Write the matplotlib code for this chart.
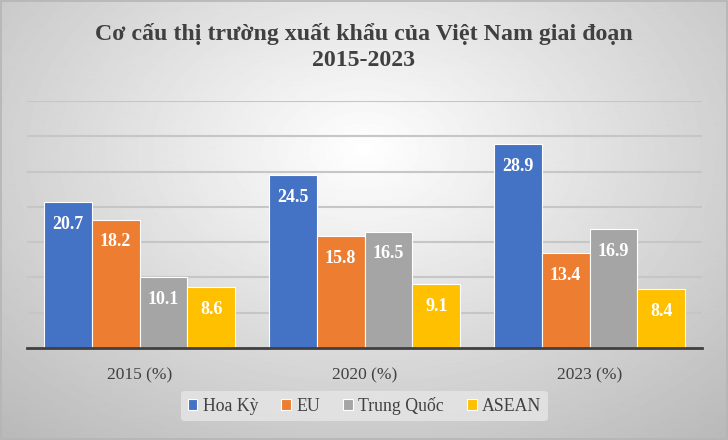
import numpy as np
import matplotlib
matplotlib.use("Agg")
import matplotlib.pyplot as plt

years = ["2015 (%)", "2020 (%)", "2023 (%)"]
markets = ["Hoa Kỳ", "EU", "Trung Quốc", "ASEAN"]
hoa_ky = [20.7, 24.5, 28.9]
eu = [18.2, 15.8, 13.4]
trung_quoc = [10.1, 16.5, 16.9]
asean = [8.6, 9.1, 8.4]
colors = ["#4472C4", "#ED7D31", "#A5A5A5", "#FFC000"]

plt.rcParams["font.family"] = ["Liberation Serif", "DejaVu Serif"]

fig = plt.figure(figsize=(7.28, 4.40), dpi=100)

# radial gradient background
bg = fig.add_axes([0, 0, 1, 1], zorder=-10)
yy, xx = np.mgrid[0:440, 0:728]
r = np.sqrt(((xx - 364) / 520.0) ** 2 + ((yy - 150) / 360.0) ** 2)
shade = np.clip(1.0 - 0.26 * r, 0.73, 1.0)
bg.imshow(shade, cmap="gray", vmin=0, vmax=1, aspect="auto", extent=[0, 1, 0, 1])
bg.set_xlim(0, 1)
bg.set_ylim(0, 1)
bg.axis("off")
bg.add_patch(plt.Rectangle((0.001, 0.002), 0.997, 0.995, fill=False,
                           edgecolor="#b5b5b5", linewidth=1.2))

ax = fig.add_axes([27 / 728, 1 - 348 / 440, 675 / 728, 247 / 440])
ax.patch.set_alpha(0)

series = [hoa_ky, eu, trung_quoc, asean]
x = np.arange(len(years))
width = 0.213
for i, (name, vals) in enumerate(zip(markets, series)):
    pos = x + (i - 1.5) * width
    bars = ax.bar(pos, vals, width, color=colors[i], edgecolor="white",
                  linewidth=0.8, label=name, zorder=3)
    for b, v in zip(bars, vals):
        ax.annotate(f"{v}", (b.get_x() + b.get_width() / 2, v),
                    xytext=(0, -10), textcoords="offset points",
                    ha="center", va="top", color="white",
                    fontsize=13, fontweight="bold", zorder=4)

ax.set_xlim(-0.5, 2.5)
ax.set_ylim(0, 35)
ax.set_yticks(np.arange(0, 36, 5))
ax.set_yticklabels([])
ax.tick_params(axis="y", length=0)
ax.tick_params(axis="x", length=0, pad=14, labelsize=12.5, labelcolor="#404040")
ax.set_xticks(x)
ax.set_xticklabels(years)
ax.grid(axis="y", color="#c6c6c6", linewidth=1.5, zorder=0)
for s in ["top", "right", "left"]:
    ax.spines[s].set_visible(False)
ax.spines["bottom"].set_color("#404040")
ax.spines["bottom"].set_linewidth(2)
ax.spines["bottom"].set_zorder(5)

fig.text(0.5, 1 - 47 / 440, "Cơ cấu thị trường xuất khẩu của Việt Nam giai đoạn\n2015-2023",
         ha="center", va="center", fontsize=17.2, fontweight="bold",
         color="#404040", linespacing=1.32)

leg = ax.legend(loc="center", bbox_to_anchor=(0.5, -0.235), ncol=4,
                frameon=True, fontsize=12.8, handlelength=0.55, handleheight=0.55,
                handletextpad=0.3, columnspacing=1.3, borderpad=0.35)
leg.get_frame().set_facecolor("#e6e6e6")
leg.get_frame().set_edgecolor("none")
leg.get_frame().set_alpha(0.8)
for t in leg.get_texts():
    t.set_color("#404040")

fig.savefig("out.png", dpi=100)
